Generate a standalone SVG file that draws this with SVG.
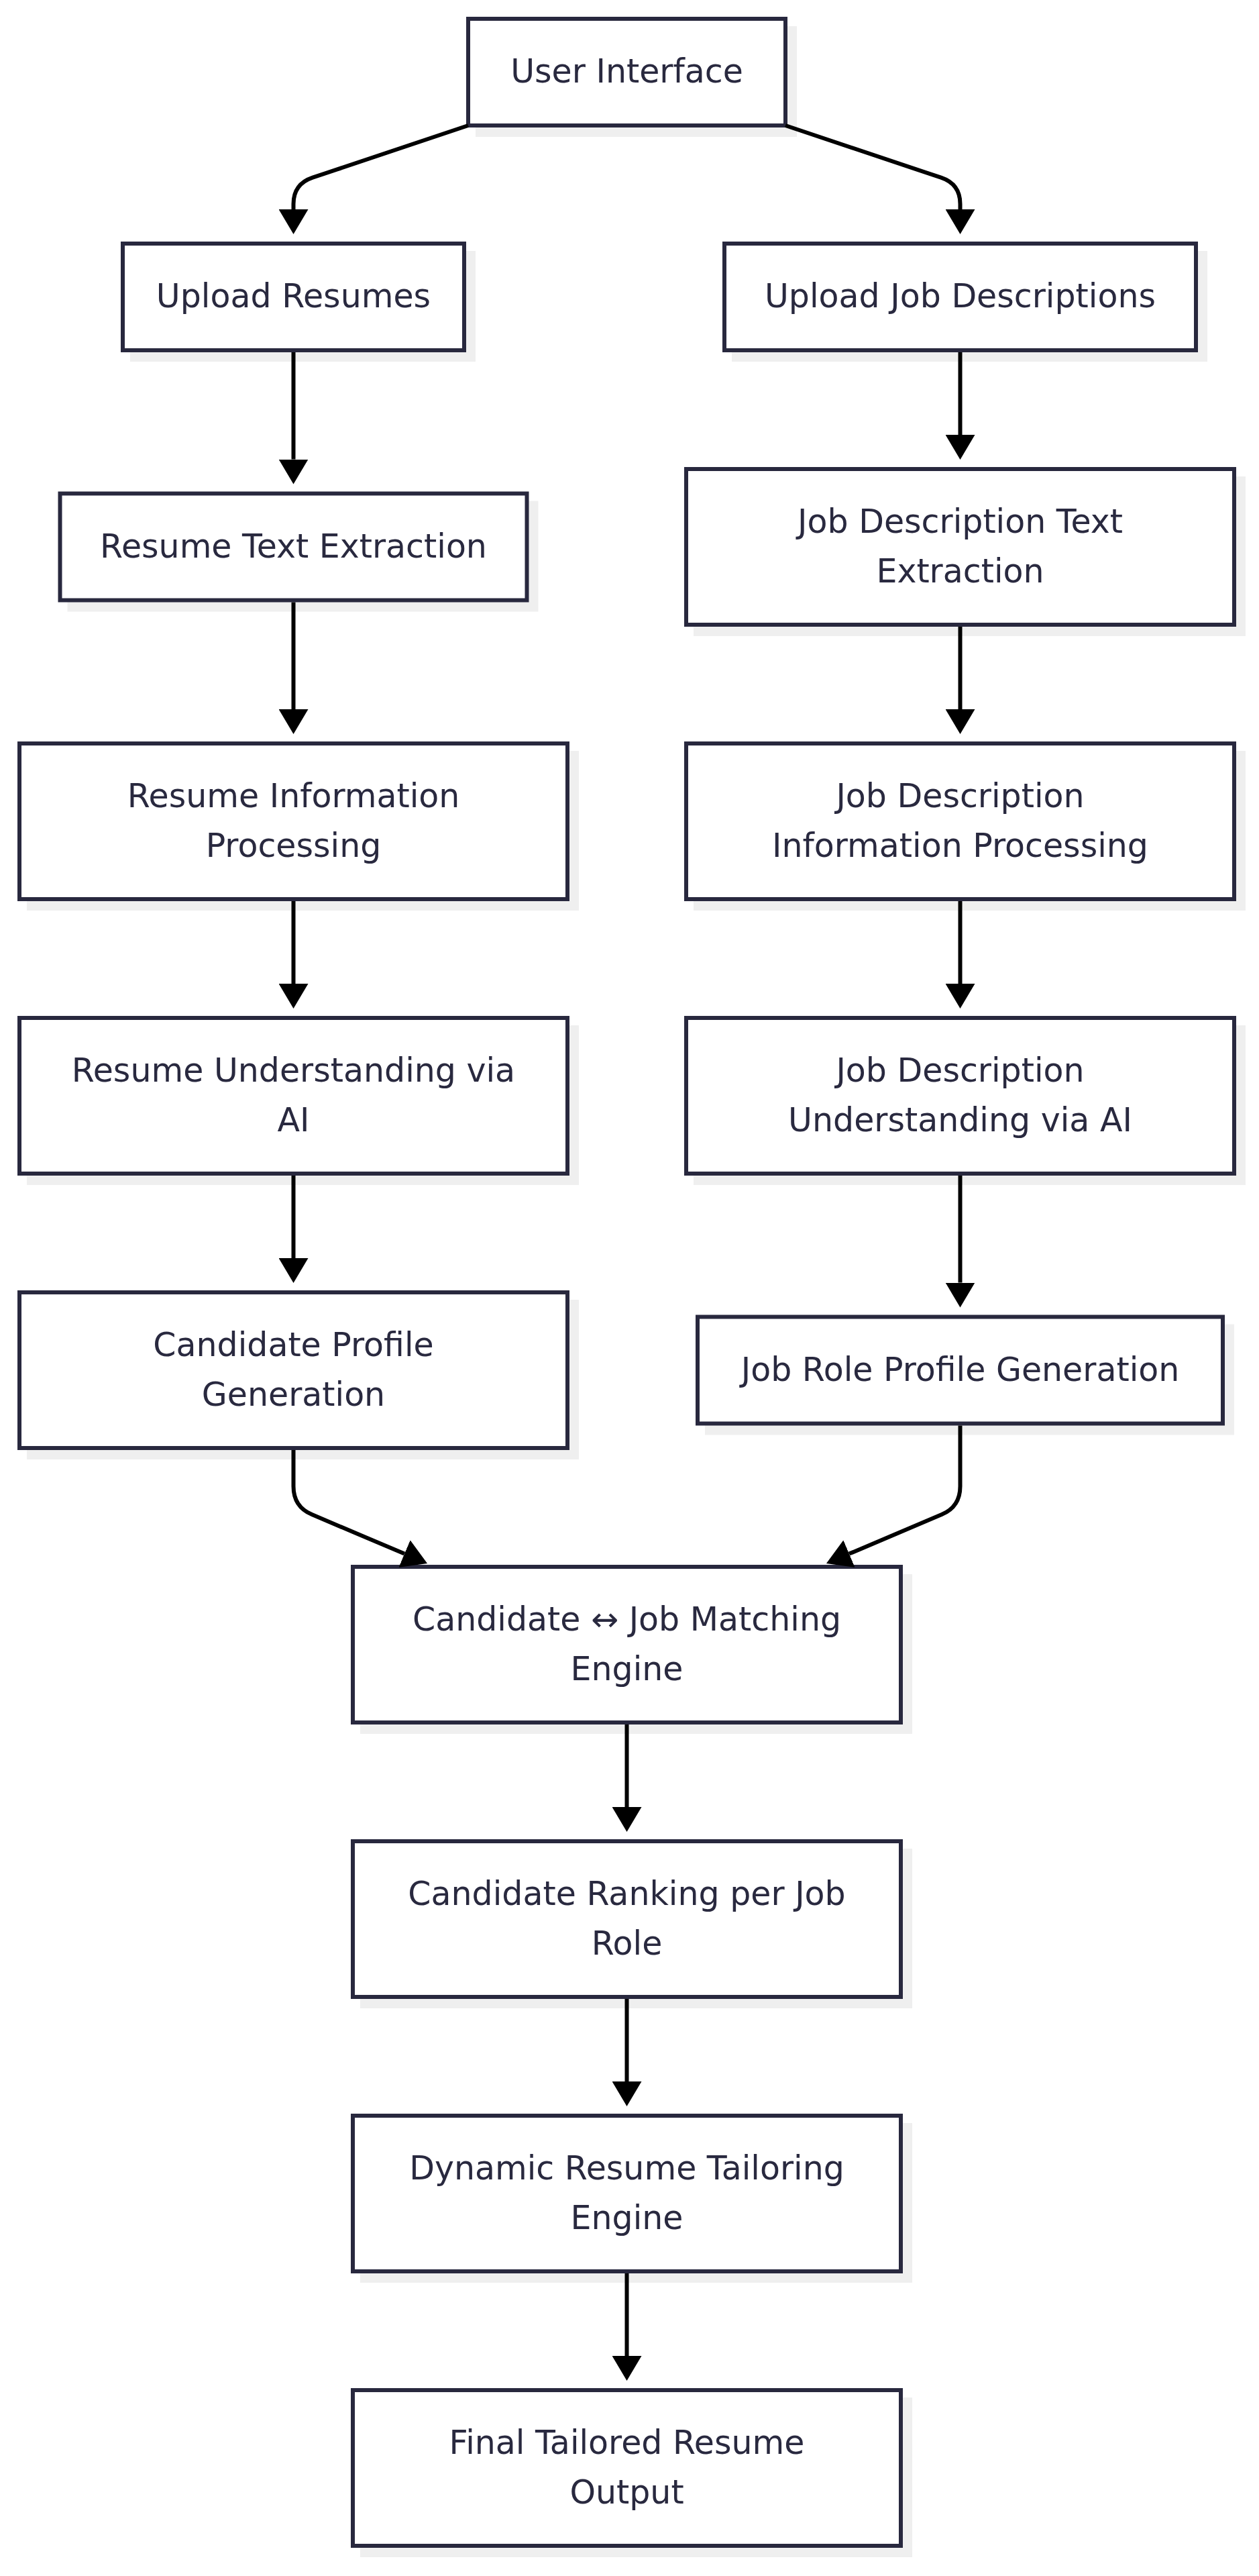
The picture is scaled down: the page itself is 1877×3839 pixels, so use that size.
<svg xmlns="http://www.w3.org/2000/svg" width="1877" height="3839" viewBox="0 0 1877 3839">
<style>
.bg{fill:#ffffff}
.sh{fill:#efefef;stroke:#efefef;stroke-width:6}
.box{fill:#ffffff;stroke:#28283e;stroke-width:6}
.t{font-family:"DejaVu Sans","Liberation Sans",sans-serif;font-size:49px;fill:#29293f;text-anchor:middle}
.e{fill:none;stroke:#000000;stroke-width:6}
</style>
<defs>
<marker id="arr" markerUnits="userSpaceOnUse" markerWidth="37" markerHeight="44" viewBox="0 0 37 44" refX="0" refY="22" orient="auto">
<path d="M0,0 L37,22 L0,44 Z" fill="#000000"/>
</marker>
</defs>
<rect class="bg" x="0" y="0" width="1877" height="3839"/>

<g id="node-ui">
<rect class="sh" x="712" y="42" width="473" height="159"/>
<rect class="box" x="698" y="28" width="473" height="159"/>
<text class="t" x="934.5" y="123">User Interface</text>
</g>

<g id="node-upload-resumes">
<rect class="sh" x="197" y="377" width="509" height="159"/>
<rect class="box" x="183" y="363" width="509" height="159"/>
<text class="t" x="437.5" y="458">Upload Resumes</text>
</g>

<g id="node-upload-jd">
<rect class="sh" x="1094" y="377" width="703" height="159"/>
<rect class="box" x="1080" y="363" width="703" height="159"/>
<text class="t" x="1431.5" y="458">Upload Job Descriptions</text>
</g>

<g id="node-resume-text">
<rect class="sh" x="103.5" y="749.5" width="696" height="159"/>
<rect class="box" x="89.5" y="735.5" width="696" height="159"/>
<text class="t" x="437.5" y="831">Resume Text Extraction</text>
</g>

<g id="node-jd-text">
<rect class="sh" x="1037" y="713" width="817" height="232"/>
<rect class="box" x="1023" y="699" width="817" height="232"/>
<text class="t" x="1431.5" y="794">Job Description Text</text>
<text class="t" x="1431.5" y="868">Extraction</text>
</g>

<g id="node-resume-info">
<rect class="sh" x="43" y="1122" width="817" height="232"/>
<rect class="box" x="29" y="1108" width="817" height="232"/>
<text class="t" x="437.5" y="1203">Resume Information</text>
<text class="t" x="437.5" y="1277">Processing</text>
</g>

<g id="node-jd-info">
<rect class="sh" x="1037" y="1122" width="817" height="232"/>
<rect class="box" x="1023" y="1108" width="817" height="232"/>
<text class="t" x="1431.5" y="1203">Job Description</text>
<text class="t" x="1431.5" y="1277">Information Processing</text>
</g>

<g id="node-resume-ai">
<rect class="sh" x="43" y="1531" width="817" height="232"/>
<rect class="box" x="29" y="1517" width="817" height="232"/>
<text class="t" x="437.5" y="1612">Resume Understanding via</text>
<text class="t" x="437.5" y="1686">AI</text>
</g>

<g id="node-jd-ai">
<rect class="sh" x="1037" y="1531" width="817" height="232"/>
<rect class="box" x="1023" y="1517" width="817" height="232"/>
<text class="t" x="1431.5" y="1612">Job Description</text>
<text class="t" x="1431.5" y="1686">Understanding via AI</text>
</g>

<g id="node-candidate-profile">
<rect class="sh" x="43" y="1940" width="817" height="232"/>
<rect class="box" x="29" y="1926" width="817" height="232"/>
<text class="t" x="437.5" y="2021">Candidate Profile</text>
<text class="t" x="437.5" y="2095">Generation</text>
</g>

<g id="node-job-role-profile">
<rect class="sh" x="1054" y="1976.5" width="783" height="159"/>
<rect class="box" x="1040" y="1962.5" width="783" height="159"/>
<text class="t" x="1431.5" y="2058">Job Role Profile Generation</text>
</g>

<g id="node-matching">
<rect class="sh" x="540" y="2349" width="817" height="232"/>
<rect class="box" x="526" y="2335" width="817" height="232"/>
<text class="t" x="934.5" y="2430">Candidate ↔ Job Matching</text>
<text class="t" x="934.5" y="2504">Engine</text>
</g>

<g id="node-ranking">
<rect class="sh" x="540" y="2758" width="817" height="232"/>
<rect class="box" x="526" y="2744" width="817" height="232"/>
<text class="t" x="934.5" y="2839">Candidate Ranking per Job</text>
<text class="t" x="934.5" y="2913">Role</text>
</g>

<g id="node-tailoring">
<rect class="sh" x="540" y="3167" width="817" height="232"/>
<rect class="box" x="526" y="3153" width="817" height="232"/>
<text class="t" x="934.5" y="3248">Dynamic Resume Tailoring</text>
<text class="t" x="934.5" y="3322">Engine</text>
</g>

<g id="node-final">
<rect class="sh" x="540" y="3576" width="817" height="232"/>
<rect class="box" x="526" y="3562" width="817" height="232"/>
<text class="t" x="934.5" y="3657">Final Tailored Resume</text>
<text class="t" x="934.5" y="3731">Output</text>
</g>

<g id="connectors">
<path class="e" marker-end="url(#arr)" d="M698,187 L466,264.7 Q437.5,274.3 437.5,304 L437.5,312"/>
<path class="e" marker-end="url(#arr)" d="M1171,187 L1403,264.7 Q1431.5,274.3 1431.5,304 L1431.5,312"/>
<path class="e" marker-end="url(#arr)" d="M437.5,525 L437.5,684.5"/>
<path class="e" marker-end="url(#arr)" d="M437.5,897.5 L437.5,1057"/>
<path class="e" marker-end="url(#arr)" d="M437.5,1343 L437.5,1466"/>
<path class="e" marker-end="url(#arr)" d="M437.5,1752 L437.5,1875"/>
<path class="e" marker-end="url(#arr)" d="M1431.5,525 L1431.5,648"/>
<path class="e" marker-end="url(#arr)" d="M1431.5,934 L1431.5,1057"/>
<path class="e" marker-end="url(#arr)" d="M1431.5,1343 L1431.5,1466"/>
<path class="e" marker-end="url(#arr)" d="M1431.5,1752 L1431.5,1911.5"/>
<path class="e" marker-end="url(#arr)" d="M437.5,2161 L437.5,2215 Q437.5,2245.5 465,2257.1 L603,2315.6"/>
<path class="e" marker-end="url(#arr)" d="M1431.5,2124.5 L1431.5,2215 Q1431.5,2245.5 1404,2257.1 L1266,2315.6"/>
<path class="e" marker-end="url(#arr)" d="M934.5,2570 L934.5,2693"/>
<path class="e" marker-end="url(#arr)" d="M934.5,2979 L934.5,3102"/>
<path class="e" marker-end="url(#arr)" d="M934.5,3388 L934.5,3511"/>
</g>
</svg>
